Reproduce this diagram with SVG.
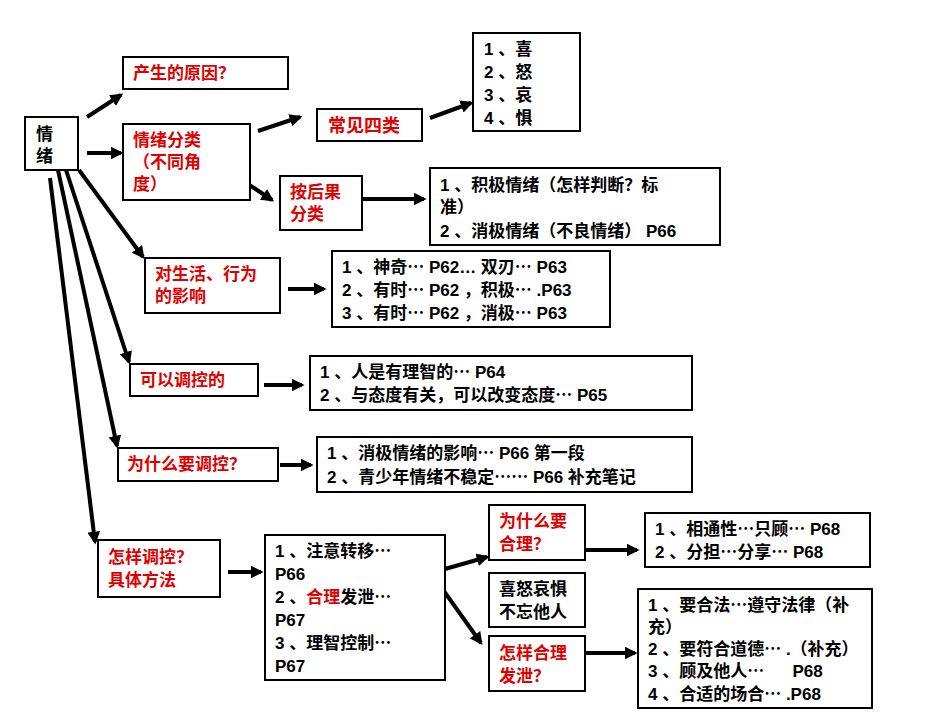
<svg xmlns="http://www.w3.org/2000/svg" width="950" height="713" viewBox="0 0 950 713">
<style>
.b{fill:#fff;stroke:#000;stroke-width:2}
.t{font-family:"Liberation Sans","Noto Sans CJK SC",sans-serif;font-size:17px;font-weight:bold;fill:#000}
.r{fill:#e00000}
.c line{stroke:#000;stroke-width:4;marker-end:url(#a)}
</style>
<defs><marker id="a" viewBox="0 0 10 10" refX="8" refY="5" markerWidth="3.2" markerHeight="3.2" orient="auto" markerUnits="strokeWidth"><path d="M0,0L10,5L0,10z"/></marker></defs>
<rect width="950" height="713" fill="#fff"/>
<g class="c">
<line x1="87" y1="117" x2="121" y2="95"/>
<line x1="87" y1="153" x2="121" y2="153"/>
<line x1="258" y1="131" x2="300" y2="117"/>
<line x1="236" y1="176" x2="272" y2="200"/>
<line x1="430" y1="118" x2="471" y2="103"/>
<line x1="362" y1="199" x2="424" y2="199"/>
<line x1="79" y1="170" x2="143" y2="257"/>
<line x1="288" y1="289" x2="324" y2="289"/>
<line x1="66" y1="170" x2="129" y2="362"/>
<line x1="58" y1="170" x2="117" y2="446"/>
<line x1="50" y1="178" x2="95" y2="542"/>
<line x1="264" y1="385" x2="302" y2="385"/>
<line x1="280" y1="465" x2="311" y2="465"/>
<line x1="228" y1="572" x2="261" y2="572"/>
<line x1="585" y1="550" x2="637" y2="550"/>
<line x1="585" y1="653" x2="635" y2="653"/>
<line x1="431" y1="573" x2="487" y2="557"/>
<line x1="431" y1="573" x2="481" y2="643"/>
</g>
<g id="n0"><rect class="b" x="25" y="117" width="53" height="53"/><text class="t" x="36" y="140">情</text><text class="t" x="36" y="162">绪</text></g>
<g id="n1"><rect class="b" x="123" y="57" width="165" height="32"/><text class="t r" x="133" y="79">产生的原因？</text></g>
<g id="n2"><rect class="b" x="123" y="124" width="127" height="76"/><text class="t r" x="133" y="146">情绪分类</text><text class="t r" x="133" y="168">（不同角</text><text class="t r" x="133" y="190">度）</text></g>
<g id="n3"><rect class="b" x="317" y="109" width="105" height="32" stroke-width="3"/><text class="t r" x="328" y="132" style="font-size:18px">常见四类</text></g>
<g id="n4"><rect class="b" x="473" y="33" width="107" height="98"/><text class="t" x="484" y="55">1 、喜</text><text class="t" x="484" y="78">2 、怒</text><text class="t" x="484" y="101">3 、哀</text><text class="t" x="484" y="124">4 、惧</text></g>
<g id="n5"><rect class="b" x="280" y="176" width="82" height="54"/><text class="t r" x="290" y="198">按后果</text><text class="t r" x="290" y="220">分类</text></g>
<g id="n6"><rect class="b" x="430" y="168" width="290" height="77"/><text class="t" x="440" y="191">1 、积极情绪（怎样判断？标</text><text class="t" x="440" y="213">准）</text><text class="t" x="440" y="237">2 、消极情绪（不良情绪） P66</text></g>
<g id="n7"><rect class="b" x="145" y="258" width="135" height="55"/><text class="t r" x="155" y="280">对生活、行为</text><text class="t r" x="155" y="302">的影响</text></g>
<g id="n8"><rect class="b" x="332" y="251" width="278" height="76"/><text class="t" x="342" y="273">1 、神奇⋯ P62… 双刃⋯ P63</text><text class="t" x="342" y="296">2 、有时⋯ P62 ，积极⋯ .P63</text><text class="t" x="342" y="319">3 、有时⋯ P62 ，消极⋯ P63</text></g>
<g id="n9"><rect class="b" x="130" y="364" width="128" height="32"/><text class="t r" x="140" y="386">可以调控的</text></g>
<g id="n10"><rect class="b" x="310" y="356" width="382" height="54"/><text class="t" x="320" y="378">1 、人是有理智的⋯ P64</text><text class="t" x="320" y="401">2 、与态度有关，可以改变态度⋯ P65</text></g>
<g id="n11"><rect class="b" x="118" y="448" width="160" height="33"/><text class="t r" x="127" y="470">为什么要调控？</text></g>
<g id="n12"><rect class="b" x="317" y="437" width="375" height="55"/><text class="t" x="327" y="459">1 、消极情绪的影响⋯ P66 第一段</text><text class="t" x="327" y="483">2 、青少年情绪不稳定⋯⋯ P66 补充笔记</text></g>
<g id="n13"><rect class="b" x="98" y="540" width="122" height="57"/><text class="t r" x="108" y="563">怎样调控？</text><text class="t r" x="108" y="586">具体方法</text></g>
<g id="n14"><rect class="b" x="265" y="535" width="180" height="145"/><text class="t" x="275" y="557">1 、注意转移⋯</text><text class="t" x="275" y="580">P66</text><text class="t" x="275" y="603">2 、<tspan class="r">合理</tspan>发泄⋯</text><text class="t" x="275" y="626">P67</text><text class="t" x="275" y="649">3 、理智控制⋯</text><text class="t" x="275" y="672">P67</text></g>
<g id="n15"><rect class="b" x="489" y="505" width="96" height="55"/><text class="t r" x="499" y="527">为什么要</text><text class="t r" x="499" y="550">合理？</text></g>
<g id="n16"><rect class="b" x="645" y="513" width="225" height="54"/><text class="t" x="655" y="535">1 、相通性⋯只顾⋯ P68</text><text class="t" x="655" y="558">2 、分担⋯分享⋯ P68</text></g>
<g id="n17"><rect class="b" x="489" y="573" width="96" height="54"/><text class="t" x="499" y="595">喜怒哀惧</text><text class="t" x="499" y="618">不忘他人</text></g>
<g id="n18"><rect class="b" x="489" y="636" width="96" height="55"/><text class="t r" x="499" y="659">怎样合理</text><text class="t r" x="499" y="682">发泄？</text></g>
<g id="n19"><rect class="b" x="638" y="589" width="234" height="119"/><text class="t" x="648" y="611">1 、要合法⋯遵守法律（补</text><text class="t" x="648" y="633">充）</text><text class="t" x="648" y="655">2 、要符合道德⋯ .（补充）</text><text class="t" x="648" y="677" xml:space="preserve">3 、顾及他人⋯      P68</text><text class="t" x="648" y="700">4 、合适的场合⋯ .P68</text></g>
</svg>
